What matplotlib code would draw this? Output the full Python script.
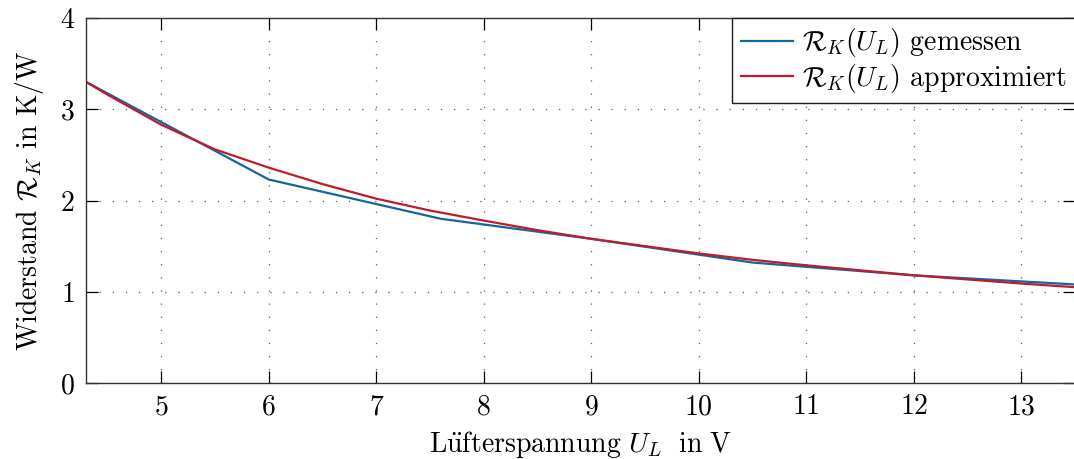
import matplotlib
matplotlib.use("Agg")
import matplotlib.pyplot as plt

plt.rcParams['font.family'] = ['cmr10', 'DejaVu Serif']
plt.rcParams['mathtext.fontset'] = 'cm'
plt.rcParams['axes.formatter.use_mathtext'] = True
plt.rcParams['axes.unicode_minus'] = False
plt.rcParams['font.size'] = 20

# Gemessener Kühlkörperwiderstand über der Lüfterspannung
u_mess = [4.3, 6.0, 7.6, 9.0, 10.5, 12.0, 13.5]
r_mess = [3.30, 2.23, 1.80, 1.58, 1.32, 1.18, 1.08]

# Approximation
u_appr = [4.3, 4.5, 5.0, 5.5, 6.0, 6.5, 7.0, 7.5, 8.0, 8.5, 9.0, 9.5,
          10.0, 10.5, 11.0, 11.5, 12.0, 12.5, 13.0, 13.5]
r_appr = [3.30, 3.16, 2.83, 2.56, 2.36, 2.18, 2.02, 1.89, 1.78, 1.675, 1.58, 1.50,
          1.42, 1.35, 1.29, 1.235, 1.18, 1.135, 1.09, 1.05]

x_ticks = [5, 6, 7, 8, 9, 10, 11, 12, 13]
y_ticks = [0, 1, 2, 3, 4]

fig = plt.figure(figsize=(10.74, 4.59), dpi=100)
ax = fig.add_axes([86 / 1074, 1 - 383 / 459, (1075 - 86) / 1074, (383 - 18) / 459])

ax.plot(u_mess, r_mess, color='#14659e', lw=1.6, label=r'$\mathcal{R}_K(U_L)$ gemessen')
ax.plot(u_appr, r_appr, color='#bf1b2c', lw=1.6, label=r'$\mathcal{R}_K(U_L)$ approximiert')

ax.set_xlim(4.3, 13.5)
ax.set_ylim(0, 4)
ax.set_xticks(x_ticks)
ax.set_yticks(y_ticks)
ax.tick_params(direction='in', length=8.5, width=0.9, top=True, right=True, pad=8)
ax.grid(True, ls=(0, (1, 9.5)), lw=0.9, color='0.35')
for s in ax.spines.values():
    s.set_color('0.2')
    s.set_linewidth(1.0)

# cmr10 hat kein ü, daher Umlaut als Akzent im Mathesatz
ax.set_xlabel(r'$\mathrm{L\ddot{u}fterspannung}\ U_L\ \ \mathrm{in\ V}$', labelpad=6)
ax.set_ylabel(r'Widerstand $\mathcal{R}_K$ in K/W', labelpad=10)

leg = ax.legend(loc='upper right', borderaxespad=0, fancybox=False, framealpha=1,
                edgecolor='0.1', handlelength=1.9, handletextpad=0.3,
                labelspacing=0.1, borderpad=0.3)
leg.get_frame().set_linewidth(1.0)

fig.savefig('out.png', dpi=100)
